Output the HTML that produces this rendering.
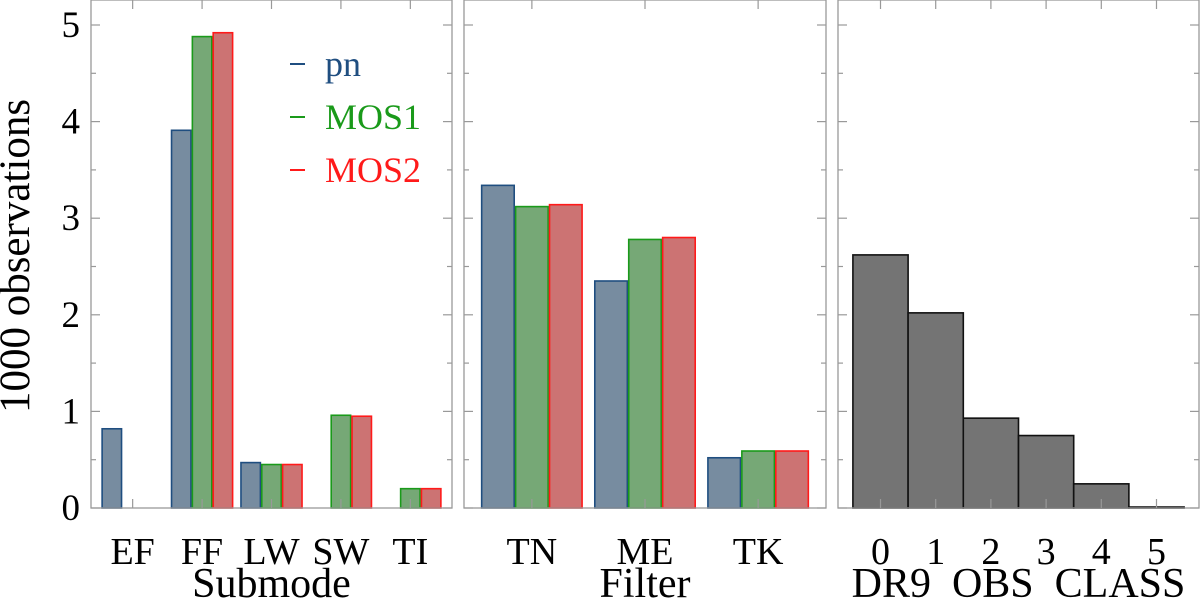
<!DOCTYPE html>
<html><head><meta charset="utf-8"><style>
body{margin:0;background:#fff}
svg text{font-family:"Liberation Serif",serif;white-space:pre}
</style></head><body>
<svg id="c" width="1200" height="603" xmlns="http://www.w3.org/2000/svg"></svg>
<script>
const cats1=["EF","FF","LW","SW","TI"];
const pn1=[0.82,3.91,0.47,0,0];
const mos1_1=[0,4.88,0.45,0.96,0.2];
const mos2_1=[0,4.92,0.45,0.95,0.2];
const cats2=["TN","ME","TK"];
const pn2=[3.34,2.35,0.52];
const mos1_2=[3.12,2.78,0.59];
const mos2_2=[3.14,2.80,0.59];
const cats3=["0","1","2","3","4","5"];
const vals3=[2.62,2.02,0.93,0.75,0.25,0.01];
const yTicks=[0,1,2,3,4,5];
const titles=["Submode","Filter","DR9  OBS  CLASS"];

const NS="http://www.w3.org/2000/svg";
const svg=document.getElementById('c');
function el(t,a,p){const e=document.createElementNS(NS,t);for(const k in a)e.setAttribute(k,a[k]);(p||svg).appendChild(e);return e;}
const Y0=508,PU=96.6;
const y=v=>Y0-v*PU;
const panels=[{l:91,r:452,d0:-0.6,d1:4.6},{l:464,r:826,d0:-0.6,d1:2.6},{l:838,r:1199,d0:-0.77,d1:5.77}];
panels.forEach(p=>p.x=v=>p.l+(v-p.d0)/(p.d1-p.d0)*(p.r-p.l));
const series=[
 {name:"pn",fill:"#778ca0",stroke:"#1f4e80"},
 {name:"MOS1",fill:"#76a876",stroke:"#1a9a1a"},
 {name:"MOS2",fill:"#cc7373",stroke:"#ff1a1a"}];
function frame(p,i){
  const g=el('g',{});
  
  
  return g;
}
function axes(p,g,cats,i){
  const gray="#999";
  el('rect',{x:p.l,y:0,width:p.r-p.l,height:Y0,fill:'none',stroke:gray,'stroke-width':1.3},g);
  for(let v=0;v<=5.01;v+=0.5){
    const len=Number.isInteger(v)?9:5;
    el('line',{x1:p.l,x2:p.l+len,y1:y(v),y2:y(v),stroke:gray,'stroke-width':1.2},g);
    el('line',{x1:p.r,x2:p.r-len,y1:y(v),y2:y(v),stroke:gray,'stroke-width':1.2},g);
  }
  cats.forEach((c,j)=>{
    const cx=p.x(j);
    el('line',{x1:cx,x2:cx,y1:0,y2:9,stroke:gray,'stroke-width':1.2},g);
    el('line',{x1:cx,x2:cx,y1:Y0,y2:Y0-9,stroke:gray,'stroke-width':1.2},g);
    const t=el('text',{x:cx,y:564,'font-size':38,'text-anchor':'middle'},g);
    t.textContent=c;
    
    
  });
  const tt=el('text',{x:(p.l+p.r)/2,y:597,'font-size':42,'text-anchor':'middle'},g);
  tt.textContent=titles[i];
  
  
}
function grouped(p,g,cats,arrs,bw){
  arrs.forEach((arr,s)=>{
    arr.forEach((v,j)=>{
      const x0=p.x(j+(s-1)*bw-bw/2),x1=p.x(j+(s-1)*bw+bw/2);
      const r=el('rect',{x:x0+0.7,y:y(v),width:x1-x0-1.4,height:v*PU,fill:series[s].fill,stroke:series[s].stroke,'stroke-width':1.6},g);
      
      
    });
  });
}
let g=frame(panels[0],0);
grouped(panels[0],g,cats1,[pn1,mos1_1,mos2_1],0.3);
axes(panels[0],g,cats1,0);
g=frame(panels[1],1);
grouped(panels[1],g,cats2,[pn2,mos1_2,mos2_2],0.3);
axes(panels[1],g,cats2,1);
g=frame(panels[2],2);
vals3.forEach((v,j)=>{
  const p=panels[2],x0=p.x(j-0.5),x1=p.x(j+0.5);
  const r=el('rect',{x:x0,y:y(v),width:x1-x0,height:v*PU,fill:'#747474',stroke:'#111','stroke-width':1.6},g);
  
  
});
axes(panels[2],g,cats3,2);
yTicks.forEach(v=>{
  const t=el('text',{x:80,y:y(v)+12,'font-size':37,'text-anchor':'end'});
  t.textContent=v;
  
  
});
const yt=el('text',{x:0,y:0,'font-size':43,'text-anchor':'middle',transform:'translate(29,256) rotate(-90)'});
yt.textContent="1000 observations";


const lg=el('g',{});


series.forEach((s,i)=>{
  const yy=64+i*53;
  el('line',{x1:290,x2:305,y1:yy,y2:yy,stroke:s.stroke,'stroke-width':2},lg);
  const t=el('text',{x:325,y:yy+12,'font-size':36,fill:s.stroke},lg);
  t.textContent=s.name;
  
  
});
</script>
</body></html>
